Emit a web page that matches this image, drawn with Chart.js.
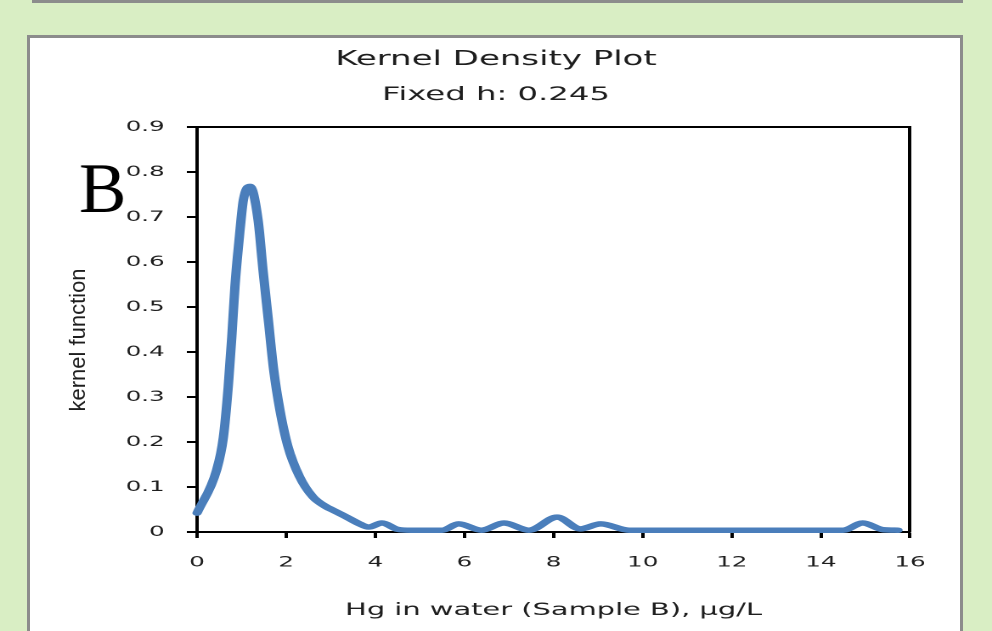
<!DOCTYPE html>
<html>
<head>
<meta charset="utf-8">
<script src="https://cdn.jsdelivr.net/npm/chart.js@4/dist/chart.umd.min.js"></script>
<style>
  html, body { margin: 0; padding: 0; }
  body { width: 992px; height: 631px; overflow: hidden; position: relative; background: #d9eec4; }
  #bar { position: absolute; left: 32px; top: 0; width: 931px; height: 3px; background: #8c8c8c; }
  #box { position: absolute; left: 27px; top: 35px; width: 930px; height: 620px; background: #ffffff;
         border: 3px solid #8c8c8c; border-bottom: none; }
  #c { position: absolute; left: 0; top: 0; transform: scaleX(1.69863); transform-origin: 0 0; }
</style>
</head>
<body>
<div id="bar"></div>
<div id="box"></div>
<canvas id="c" width="584" height="631"></canvas>
<script>
// ---- data ----
const hgValues = [0, 0.44, 0.59, 0.70, 0.78, 0.85, 0.95, 1.04, 1.19, 1.37, 1.48, 1.60, 1.72, 1.86, 2.04, 2.30, 2.60, 2.90, 3.04, 3.36, 3.65, 3.85, 4.15, 4.50, 4.80, 5.50, 5.87, 6.38, 6.89, 7.45, 8.08, 8.60, 9.06, 9.70, 14.50, 14.94, 15.40, 15.73];
const kernelValues = [0.042, 0.138, 0.21, 0.323, 0.434, 0.545, 0.656, 0.738, 0.768, 0.693, 0.582, 0.471, 0.36, 0.271, 0.19, 0.123, 0.078, 0.056, 0.049, 0.033, 0.018, 0.011, 0.02, 0.006, 0.004, 0.004, 0.018, 0.004, 0.02, 0.004, 0.033, 0.007, 0.018, 0.004, 0.004, 0.02, 0.005, 0.004];
const xTicks = [0, 2, 4, 6, 8, 10, 12, 14, 16];
const xTickLabels = ['0', '2', '4', '6', '8', '10', '12', '14', '16'];
const yTicks = [0, 0.1, 0.2, 0.3, 0.4, 0.5, 0.6, 0.7, 0.8, 0.9];
const yTickLabels = ['0', '0.1', '0.2', '0.3', '0.4', '0.5', '0.6', '0.7', '0.8', '0.9'];
const titleText = 'Kernel Density Plot';
const subtitleText = 'Fixed h: 0.245';
const xTitle = 'Hg in water (Sample B), \u00b5g/L';
const yTitle = 'kernel function';
const panelLabel = 'B';

// ---- layout ----
const K = 992 / 584; // horizontal stretch of the picture
const textColor = '#1e1e1e';

const overlayText = {
  id: 'overlayText',
  afterDraw(chart) {
    const ctx = chart.ctx;
    ctx.save();
    ctx.scale(1 / K, 1);           // draw these in unstretched page pixels
    ctx.fillStyle = '#000';
    ctx.font = '71px "Liberation Serif", "Times New Roman", serif';
    ctx.textAlign = 'left';
    ctx.textBaseline = 'alphabetic';
    ctx.fillText(panelLabel, 79, 212);
    ctx.fillStyle = textColor;
    ctx.translate(85, 340);
    ctx.rotate(-Math.PI / 2);
    ctx.font = '22px "Liberation Sans", Arial, sans-serif';
    ctx.textAlign = 'center';
    ctx.fillText(yTitle, 0, 0);
    ctx.restore();
  }
};

const tickFont = { family: '"DejaVu Sans", sans-serif', size: 14.5 };

new Chart(document.getElementById('c'), {
  type: 'scatter',
  data: {
    datasets: [{
      data: hgValues.map((x, i) => ({ x: x, y: kernelValues[i] })),
      showLine: true,
      borderColor: '#4a7ebb',
      backgroundColor: '#4a7ebb',
      borderWidth: 5.5,
      borderCapStyle: 'round',
      borderJoinStyle: 'round',
      pointRadius: 0,
      cubicInterpolationMode: 'monotone',
      clip: false
    }]
  },
  options: {
    responsive: false,
    animation: false,
    devicePixelRatio: 2,
    layout: { padding: { top: 48, bottom: 10.2, left: 0, right: 0 } },
    plugins: {
      legend: { display: false },
      tooltip: { enabled: false },
      title: {
        display: true, text: titleText, color: textColor,
        font: { family: '"DejaVu Sans", sans-serif', size: 20, weight: 'normal', lineHeight: 1.2 },
        padding: { top: 0, bottom: 11.6 }
      },
      subtitle: {
        display: true, text: subtitleText, color: textColor,
        font: { family: '"DejaVu Sans", sans-serif', size: 19, weight: 'normal', lineHeight: 1.2 },
        padding: { top: 0, bottom: 20.6 }
      }
    },
    scales: {
      x: {
        type: 'linear', position: 'bottom', min: 0, max: 16,
        afterBuildTicks: s => { s.ticks = xTicks.map(v => ({ value: v })); },
        afterFit: s => { s.height = 88.8; },
        ticks: { font: tickFont, color: textColor, padding: 16, maxRotation: 0, autoSkip: false,
                 callback: (v, i) => xTickLabels[i] },
        grid: { display: true, drawOnChartArea: false, drawTicks: true, tickLength: 6, tickWidth: 2, tickColor: '#000', color: '#000' },
        border: { display: true, color: '#000', width: 2 },
        title: { display: true, text: xTitle, color: textColor,
                 font: { family: '"DejaVu Sans", sans-serif', size: 17, lineHeight: 1.2 },
                 padding: { top: 0, bottom: 0 } }
      },
      y: {
        type: 'linear', position: 'left', min: 0, max: 0.9,
        afterBuildTicks: s => { s.ticks = yTicks.map(v => ({ value: v })); },
        afterFit: s => { s.width = 116; },
        ticks: { font: tickFont, color: textColor, padding: 13, autoSkip: false,
                 callback: (v, i) => yTickLabels[i] },
        grid: { display: true, drawOnChartArea: false, drawTicks: true, tickLength: 6, tickWidth: 2, tickColor: '#000', color: '#000' },
        border: { display: true, color: '#000', width: 2 }
      },
      x2: {
        type: 'linear', position: 'top', min: 0, max: 16,
        afterFit: s => { s.height = 0; },
        ticks: { display: false },
        grid: { display: false },
        border: { display: true, color: '#000', width: 2 }
      },
      y2: {
        type: 'linear', position: 'right', min: 0, max: 0.9,
        afterFit: s => { s.width = 48.28; },
        ticks: { display: false },
        grid: { display: false },
        border: { display: true, color: '#000', width: 2 }
      }
    }
  },
  plugins: [overlayText]
});
</script>
</body>
</html>
